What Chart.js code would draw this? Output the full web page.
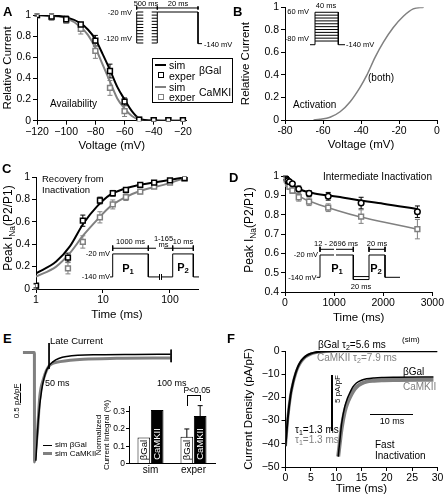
<!DOCTYPE html>
<html>
<head>
<meta charset="utf-8">
<script src="https://cdn.jsdelivr.net/npm/chart.js@4.4.1/dist/chart.umd.min.js"></script>
<style>
  html, body { margin: 0; padding: 0; background: #fff; }
  #fig { position: relative; width: 446px; height: 498px; overflow: hidden; font-family: "Liberation Sans", Arial, sans-serif; }
  #fig canvas { position: absolute; }
  .t { position: absolute; white-space: nowrap; line-height: 1; color: #000; }
  .t sub { font-size: 70%; vertical-align: -0.3em; line-height: 0; }
  .ln { position: absolute; background: #000; }
</style>
</head>
<body>
<div id="fig">
  <canvas id="cA"></canvas>
  <canvas id="cB"></canvas>
  <canvas id="cC"></canvas>
  <canvas id="cD"></canvas>
  <canvas id="cE"></canvas>
  <canvas id="cEbar"></canvas>
  <canvas id="cF"></canvas>
  <canvas id="pA"></canvas>
  <canvas id="pB"></canvas>
  <canvas id="pC"></canvas>
  <canvas id="pD"></canvas>
</div>
<script>
// ---------- data ----------
// A: availability (exper points + sim curves)
const voltA = [-120, -110, -100, -90, -80, -70, -60, -50, -40, -30, -20];
const availBgal = [1.0, 0.985, 0.96, 0.91, 0.757, 0.47, 0.18, 0.01, 0.005, 0.005, 0.005];
const availBgalErr = [0.01, 0.025, 0.03, 0.02, 0.05, 0.065, 0.035, 0.01, 0.01, 0.01, 0.01];
const availCam = [1.0, 0.98, 0.95, 0.87, 0.66, 0.31, 0.09, 0.01, 0.005, 0.005, 0.005];
const availCamErr = [0.01, 0.03, 0.03, 0.05, 0.07, 0.07, 0.05, 0.01, 0.01, 0.01, 0.01];
const simVoltA = [-120, -110, -100, -90, -85, -80, -75, -70, -65, -60, -55, -50, -45, -40, -30, -20];
const simAvailBgal = [1.0, 0.995, 0.98, 0.92, 0.86, 0.77, 0.63, 0.48, 0.32, 0.2, 0.09, 0.02, 0.005, 0.002, 0, 0];
const simAvailCam = [1.0, 0.99, 0.97, 0.885, 0.81, 0.69, 0.53, 0.37, 0.21, 0.115, 0.045, 0.012, 0.004, 0.001, 0, 0];

// B: activation (both)
const voltB = [-65, -61.6, -56.3, -51, -45.8, -40.5, -37, -32.6, -28.2, -23, -17.7, -12.5, -7];
const actB = [0, 0.006, 0.024, 0.073, 0.16, 0.29, 0.395, 0.555, 0.69, 0.82, 0.92, 0.985, 1.0];

// C: recovery from inactivation
const timeC = [1, 3, 5, 9, 14, 22, 36, 58, 100, 165];
const recBgal = [0.03, 0.28, 0.61, 0.79, 0.855, 0.885, 0.93, 0.95, 0.97, 0.99];
const recBgalErr = [0.02, 0.04, 0.05, 0.03, 0.025, 0.02, 0.015, 0.01, 0.01, 0.01];
const recCam = [0.02, 0.185, 0.42, 0.64, 0.755, 0.82, 0.87, 0.915, 0.95, 0.985];
const recCamErr = [0.02, 0.05, 0.055, 0.05, 0.04, 0.03, 0.02, 0.01, 0.01, 0.01];
const simTimeC = [1, 2, 3.2, 5.1, 8.1, 12.7, 20, 35.6, 80, 167];
const simRecBgal = [0.14, 0.245, 0.38, 0.585, 0.735, 0.84, 0.89, 0.93, 0.965, 0.997];
const simRecCam = [0.11, 0.2, 0.32, 0.48, 0.615, 0.735, 0.81, 0.875, 0.93, 0.99];

// D: intermediate inactivation
const timeD = [12, 20, 35, 55, 90, 150, 280, 490, 880, 1550, 2696];
const intBgal = [0.99, 0.985, 0.98, 0.975, 0.97, 0.96, 0.933, 0.91, 0.895, 0.86, 0.815];
const intBgalErr = [0.01, 0.01, 0.01, 0.01, 0.01, 0.01, 0.015, 0.015, 0.02, 0.03, 0.03];
const intCam = [0.985, 0.978, 0.97, 0.96, 0.945, 0.925, 0.89, 0.867, 0.836, 0.79, 0.725];
const intCamErr = [0.01, 0.01, 0.01, 0.01, 0.015, 0.015, 0.02, 0.02, 0.02, 0.035, 0.05];
const simTimeD = [0, 50, 150, 360, 600, 1080, 1500, 2000, 2700];
const simIntBgal = [1.0, 0.98, 0.955, 0.925, 0.91, 0.893, 0.875, 0.857, 0.828];
const simIntCam = [1.0, 0.965, 0.928, 0.885, 0.86, 0.82, 0.79, 0.762, 0.725];

// E: late current traces (ms, pA/pF relative to holding level)
const lateTimeBgal = [44.6, 45.6, 47, 49, 51.7, 57.2, 70.8, 85, 99.8];
const lateBgal = [-3.6, -2.24, -1.24, -0.58, -0.3, -0.13, -0.07, -0.06, -0.055];
const lateTimeCam = [39.3, 44.0, 44.05, 44.4, 45.3, 46.2, 47.6, 50.4, 54.5, 64, 77.7, 99.8];
const lateCam = [0, 0, -3.64, -3.3, -2.58, -1.47, -0.91, -0.41, -0.3, -0.22, -0.19, -0.18];
const lateMarks = [50, 100];

// E inset: normalized current integral
const barCats = ['sim', 'exper'];
const barBgal = [0.15, 0.155];
const barBgalErr = [0, 0.045];
const barCam = [0.31, 0.275];
const barCamErr = [0, 0.06];

// F: fast inactivation
const timeF = [0, 0.5, 1, 1.5, 2, 2.5, 3, 3.5, 4, 5, 6, 7, 8, 10, 30];
const fastBgal = [-41, -28, -19, -13.5, -9.5, -6.5, -4.5, -3.2, -2.2, -1.1, -0.5, -0.25, -0.1, 0, 0];
const fastCam = [-41, -28, -19.2, -13.8, -9.8, -6.9, -4.9, -3.5, -2.5, -1.3, -0.7, -0.4, -0.2, -0.05, 0];
const zoomTimeF = [10.4, 10.8, 11.1, 11.7, 12.2, 12.7, 13.3, 14, 15, 16, 17.5, 19, 22, 29.2];
const zoomBgal = [-45.5, -37, -31, -24, -20.5, -18, -15.5, -13.8, -12.6, -12, -11.6, -11.4, -11.3, -11.2];
const zoomCam = [-45.5, -38, -33, -26, -22.5, -20, -17.5, -15.5, -14, -13.2, -12.8, -12.6, -12.5, -12.4];

// voltage protocols (mV levels, schematic time)
const protoALevels = [-120, -110, -100, -90, -80, -70, -60, -50, -40, -30, -20];
const protoBLevels = [-80, -66, -52, -38, -24, -10, 4, 18, 32, 46, 60];

const GRAY = '#808080';
const fig = document.getElementById('fig');

Chart.defaults.font.family = '"Liberation Sans", Arial, Helvetica, sans-serif';
Chart.defaults.font.size = 10.5;
Chart.defaults.color = '#000';
Chart.defaults.animation = false;
Chart.defaults.events = [];
Chart.defaults.plugins.legend.display = false;
Chart.defaults.plugins.tooltip.enabled = false;

// ---------- helpers ----------
function frame(id, box, area) {
  const c = document.getElementById(id);
  c.style.left = box[0] + 'px';
  c.style.top = box[1] + 'px';
  c.width = box[2];
  c.height = box[3];
  if (!area) return { padding: 0 };
  return {
    padding: { left: 0, top: area.top - box[1], right: box[0] + box[2] - area.right, bottom: 0 },
    yw: area.left - box[0],
    xh: box[1] + box[3] - area.bottom
  };
}

const num = v => String(Math.round(v * 1000) / 1000);
const minus = v => (v < 0 ? '\u2212' + (-v) : String(v));

function axis(f, o, isX) {
  return {
    type: o.type || 'linear',
    min: o.min,
    max: o.max,
    afterFit: s => { if (isX) s.height = f.xh; else s.width = f.yw; },
    afterBuildTicks: s => { s.ticks = o.ticks.map(v => ({ value: v })); },
    border: { color: '#000', width: 1 },
    grid: { drawOnChartArea: false, drawTicks: true, tickLength: o.tl || 4, color: '#000' },
    ticks: { font: { size: o.fs || 10.5, lineHeight: 1 }, padding: o.pd == null ? 2 : o.pd, autoSkip: false, maxRotation: 0, callback: o.fmt || num },
    title: {
      display: !!o.title, text: o.title, font: { size: 11.5 },
      padding: isX ? { top: 0, bottom: o.tp || 0 } : { top: o.tp || 0, bottom: 0 }
    }
  };
}

function pts(xs, ys, err, color, style, r) {
  return {
    data: xs.map((x, i) => ({ x, y: ys[i] })), err,
    showLine: false, borderColor: color,
    pointStyle: style, pointRadius: r, pointBorderWidth: 1.5,
    pointBorderColor: color, pointBackgroundColor: '#fff'
  };
}

function curve(xs, ys, color, w) {
  return {
    data: xs.map((x, i) => ({ x, y: ys[i] })),
    borderColor: color, borderWidth: w, pointRadius: 0,
    cubicInterpolationMode: 'monotone', fill: false
  };
}

// polylines -> one dataset with gaps
function segs(lines) {
  const out = [];
  lines.forEach(l => {
    l.forEach(p => out.push({ x: p[0], y: p[1] }));
    out.push({ x: l[l.length - 1][0], y: null });
  });
  return out;
}

// error bars drawn through the chart's own y scale
const errorBars = {
  id: 'errorBars',
  beforeDatasetsDraw(chart) {
    const ctx = chart.ctx;
    chart.data.datasets.forEach((ds, i) => {
      if (!ds.err) return;
      const meta = chart.getDatasetMeta(i);
      const ys = chart.scales[meta.yAxisID];
      ctx.save();
      ctx.strokeStyle = ds.borderColor;
      ctx.lineWidth = 1;
      meta.data.forEach((el, j) => {
        const e = ds.err[j];
        if (!e) return;
        const d = ds.data[j];
        const v = typeof d === 'object' ? d.y : d;
        const top = ys.getPixelForValue(v + e);
        const bot = ys.getPixelForValue(v - e);
        ctx.beginPath();
        ctx.moveTo(el.x, top); ctx.lineTo(el.x, bot);
        ctx.moveTo(el.x - 2.5, top); ctx.lineTo(el.x + 2.5, top);
        ctx.moveTo(el.x - 2.5, bot); ctx.lineTo(el.x + 2.5, bot);
        ctx.stroke();
      });
      ctx.restore();
    });
  }
};

function txt(h, x, y, o = {}) {
  const d = document.createElement('div');
  d.className = 't';
  d.innerHTML = h;
  d.style.left = x + 'px';
  d.style.top = y + 'px';
  d.style.fontSize = (o.s || 10) + 'px';
  if (o.c) d.style.color = o.c;
  if (o.b) d.style.fontWeight = 'bold';
  const ax = o.a === 'c' ? '-50%' : o.a === 'r' ? '-100%' : '0';
  d.style.transform = o.rot ? 'translate(-50%,-50%) rotate(-90deg)' : `translate(${ax},-50%)`;
  fig.appendChild(d);
  return d;
}

function rule(x, y, w, h, c) {
  const d = document.createElement('div');
  d.className = 'ln';
  Object.assign(d.style, { left: x + 'px', top: y + 'px', width: w + 'px', height: h + 'px', background: c || '#000' });
  fig.appendChild(d);
  return d;
}

function boxEl(x, y, w, h, css) {
  const d = document.createElement('div');
  Object.assign(d.style, { position: 'absolute', left: x + 'px', top: y + 'px', width: w + 'px', height: h + 'px', boxSizing: 'border-box' }, css);
  fig.appendChild(d);
  return d;
}

function inset(id, box, xr, yr, lines) {
  frame(id, box, null);
  new Chart(id, {
    type: 'line',
    data: { datasets: [{ data: segs(lines), borderColor: '#000', borderWidth: 1, pointRadius: 0, tension: 0, clip: false, spanGaps: false }] },
    options: {
      responsive: false, layout: { padding: 0 },
      scales: { x: { type: 'linear', display: false, min: xr[0], max: xr[1] }, y: { display: false, min: yr[0], max: yr[1] } }
    }
  });
}

// ---------- A ----------
const fA = frame('cA', [0, 0, 222, 160], { left: 37, top: 15, right: 186.6, bottom: 120.7 });
new Chart('cA', {
  type: 'line',
  data: { datasets: [
    pts(voltA, availBgal, availBgalErr, '#000', 'rect', 3.4),
    pts(voltA, availCam, availCamErr, GRAY, 'rect', 3.4),
    curve(simVoltA, simAvailBgal, '#000', 2),
    curve(simVoltA, simAvailCam, GRAY, 2)
  ] },
  options: {
    responsive: false, layout: { padding: fA.padding },
    scales: {
      x: axis(fA, { min: -120, max: -17.5, ticks: [-120, -100, -80, -60, -40, -20], fmt: minus, title: 'Voltage (mV)', tp: 7 }, true),
      y: axis(fA, { min: 0, max: 1, ticks: [0, 0.2, 0.4, 0.6, 0.8, 1], title: 'Relative Current', tp: 1 }, false)
    }
  },
  plugins: [errorBars]
});

// ---------- B ----------
const fB = frame('cB', [222, 0, 224, 160], { left: 285, top: 6, right: 437, bottom: 120 });
new Chart('cB', {
  type: 'line',
  data: { datasets: [curve(voltB, actB, GRAY, 1.5)] },
  options: {
    responsive: false, layout: { padding: fB.padding },
    scales: {
      x: axis(fB, { min: -80, max: 0, ticks: [-80, -60, -40, -20, 0], title: 'Voltage (mV)', tp: 8 }, true),
      y: axis(fB, { min: 0, max: 1, ticks: [0, 0.2, 0.4, 0.6, 0.8, 1], title: 'Relative Current', tp: 17 }, false)
    }
  }
});

// ---------- C ----------
const fC = frame('cC', [0, 160, 222, 170], { left: 36, top: 177, right: 198, bottom: 289 });
new Chart('cC', {
  type: 'line',
  data: { datasets: [
    pts(timeC, recBgal, recBgalErr, '#000', 'rect', 3.4),
    pts(timeC, recCam, recCamErr, GRAY, 'rect', 3.4),
    curve(simTimeC, simRecBgal, '#000', 2),
    curve(simTimeC, simRecCam, GRAY, 2)
  ] },
  options: {
    responsive: false, layout: { padding: fC.padding },
    scales: {
      x: axis(fC, { type: 'logarithmic', min: 1, max: 262, ticks: [1, 10, 100], fmt: v => String(v), title: 'Time (ms)', tp: 8 }, true),
      y: axis(fC, { min: 0, max: 1, ticks: [0, 0.2, 0.4, 0.6, 0.8, 1] }, false)
    }
  },
  plugins: [errorBars]
});

// ---------- D ----------
const fD = frame('cD', [222, 160, 224, 170], { left: 285, top: 176, right: 438, bottom: 292 });
new Chart('cD', {
  type: 'line',
  data: { datasets: [
    pts(timeD, intBgal, intBgalErr, '#000', 'circle', 2.8),
    pts(timeD, intCam, intCamErr, GRAY, 'rect', 3.4),
    curve(simTimeD, simIntBgal, '#000', 2),
    curve(simTimeD, simIntCam, GRAY, 1.5)
  ] },
  options: {
    responsive: false, layout: { padding: fD.padding },
    scales: {
      x: axis(fD, { min: 0, max: 3000, ticks: [0, 1000, 2000, 3000], title: 'Time (ms)', tp: 5 }, true),
      y: axis(fD, { min: 0.4, max: 1, ticks: [0.4, 0.5, 0.6, 0.7, 0.8, 0.9, 1] }, false)
    }
  },
  plugins: [errorBars]
});

// ---------- E traces ----------
frame('cE', [20, 340, 155, 130], null);
new Chart('cE', {
  type: 'line',
  data: { datasets: [
    { data: segs([[[lateMarks[0], 0.32], [lateMarks[0], -0.54]], [[lateMarks[1], 0.1], [lateMarks[1], -0.32]]]),
      borderColor: '#000', borderWidth: 1, pointRadius: 0, tension: 0, spanGaps: false },
    curve(lateTimeBgal, lateBgal, '#000', 1.5),
    curve(lateTimeCam, lateCam, GRAY, 3)
  ] },
  options: {
    responsive: false, layout: { padding: 0 },
    scales: { x: { type: 'linear', display: false, min: 38.1, max: 101.6 }, y: { display: false, min: -3.91, max: 0.42 } }
  }
});

// ---------- E bars ----------
const fEb = frame('cEbar', [95, 395, 123, 85], { left: 129, top: 406.5, right: 215, bottom: 463.5 });
const barChart = new Chart('cEbar', {
  type: 'bar',
  data: { labels: barCats, datasets: [
    { data: barBgal, err: barBgalErr, backgroundColor: '#fff', borderColor: '#000', borderWidth: 1, categoryPercentage: 0.62, barPercentage: 0.95 },
    { data: barCam, err: barCamErr, backgroundColor: '#000', borderColor: '#000', borderWidth: 1, categoryPercentage: 0.62, barPercentage: 0.95 }
  ] },
  options: {
    responsive: false, layout: { padding: fEb.padding },
    scales: {
      x: { type: 'category', afterFit: s => { s.height = fEb.xh; },
           border: { color: '#000' }, grid: { display: false, drawTicks: false },
           ticks: { font: { size: 10, lineHeight: 1 }, padding: 2 } },
      y: Object.assign(axis(fEb, { min: 0, max: 0.33, ticks: [0, 0.1, 0.2, 0.3], fs: 8.5, tl: 3, pd: 1 }, false), {
           title: { display: true, text: ['Normalized', 'Current Integral (%)'], font: { size: 8, lineHeight: 1.0 }, padding: { top: 0, bottom: 0 } } })
    }
  },
  plugins: [errorBars]
});

// ---------- F ----------
const fF = frame('cF', [222, 330, 224, 168], { left: 285.5, top: 351, right: 437.5, bottom: 467 });
new Chart('cF', {
  type: 'line',
  data: { datasets: [
    curve(timeF, fastBgal, '#000', 2),
    curve(timeF, fastCam, GRAY, 3),
    curve(zoomTimeF, zoomBgal, '#000', 1.5),
    curve(zoomTimeF, zoomCam, GRAY, 4)
  ] },
  options: {
    responsive: false, layout: { padding: fF.padding },
    scales: {
      x: axis(fF, { min: 0, max: 30, ticks: [0, 5, 10, 15, 20, 25, 30], title: 'Time (ms)', tp: 2 }, true),
      y: axis(fF, { min: -50, max: 0, ticks: [-50, -40, -30, -20, -10, 0], fmt: minus, title: 'Current Density (pA/pF)', tp: 20 }, false)
    }
  }
});

// ---------- protocol insets ----------
inset('pA', [134, 2, 72, 46], [0, 72], [-136.1, 12.3], [
  ...protoALevels.map(L => [[2.7, L], [9.3, L]]),
  ...protoALevels.map(L => [[17.7, L], [23.3, L]]),
  [[2.7, -120], [2.7, -20]],
  [[23.3, -120], [23.3, -20], [64, -20], [64, -122], [68, -122]],
  [[2.7, -7], [64, -7]],
  [[2.7, -2], [2.7, -12]], [[23.3, -2], [23.3, -12]], [[64, -2], [64, -12]]
]);
inset('pB', [305, 2, 70, 46], [0, 70], [-114, 110], [
  ...protoBLevels.map(L => [[10, L], [33.3, L]]),
  [[5, -98], [10, -98], [10, 60]],
  [[33.3, 60], [33.3, -98], [40, -98]]
]);
inset('pC', [84, 234, 120, 52], [0, 120], [-187.3, 84], [
  [[26, -140], [28.7, -140], [28.7, -20], [64.3, -20], [64.3, -140], [75.5, -140]],
  [[77.5, -140], [88.7, -140], [88.7, -20], [109.3, -20], [109.3, -140], [115, -140]],
  [[75.5, -126], [75.5, -154]], [[77.5, -126], [77.5, -154]],
  [[28.7, 9.7], [64.3, 9.7], [72, 9.7]], [[80, 9.7], [109.3, 9.7]],
  [[28.7, 24], [28.7, -4]], [[64.3, 24], [64.3, -4]], [[88.7, 24], [88.7, -4]], [[109.3, 24], [109.3, -4]]
]);
inset('pD', [300, 238, 105, 50], [0, 105], [-197.5, 71.4], [
  [[16.7, -140], [20, -140], [20, -20], [34, -20]],
  [[36, -20], [53.3, -20], [53.3, -152], [69, -152], [69, -20], [85, -20], [85, -140], [100, -140]],
  [[53.3, -136], [69, -136]],
  [[20, 10.6], [34, 10.6]], [[36, 10.6], [53.3, 10.6]], [[69, 10.6], [85, 10.6]],
  [[20, 24], [20, -3]], [[53.3, 24], [53.3, -3]], [[69, 24], [69, -3]], [[85, 24], [85, -3]]
]);

// ---------- text and annotations ----------
// A
txt('A', 3, 11, { s: 13, b: 1 });
txt('Availability', 50, 104, { s: 10 });
boxEl(152, 58, 81, 45, { border: '1px solid #000' });
rule(155, 64, 11, 2);
txt('sim', 169, 65, { s: 10.5 });
boxEl(158, 72, 6, 6, { border: '1.5px solid #000', background: '#fff' });
txt('exper', 169, 75.5, { s: 10.5 });
txt('\u03b2Gal', 199, 70, { s: 10.5 });
rule(155, 85.5, 11, 2, GRAY);
txt('sim', 169, 86.5, { s: 10.5 });
boxEl(158, 94, 6, 6, { border: '1.5px solid ' + GRAY, background: '#fff' });
txt('exper', 169, 97, { s: 10.5 });
txt('CaMKII', 199, 91.5, { s: 10.5 });
txt('-20 mV', 132, 12.7, { a: 'r', s: 7.5 });
txt('-120 mV', 132, 39, { a: 'r', s: 7.5 });
txt('-140 mV', 204, 44.5, { s: 7.5 });
txt('500 ms', 146, 4, { a: 'c', s: 7.5 });
txt('20 ms', 178, 4, { a: 'c', s: 7.5 });

// B
txt('B', 233, 11, { s: 13, b: 1 });
txt('Activation', 293, 105, { s: 10 });
txt('(both)', 368, 78, { s: 10 });
txt('40 ms', 326, 6, { a: 'c', s: 7.5 });
txt('60 mV', 309, 12.3, { a: 'r', s: 7.5 });
txt('-80 mV', 309, 39, { a: 'r', s: 7.5 });
txt('-140 mV', 346, 44.7, { s: 7.5 });

// C
txt('C', 2, 168, { s: 13, b: 1 });
txt('Recovery from', 42, 179.3, { s: 9.5 });
txt('Inactivation', 42, 189.5, { s: 9.5 });
txt('Peak I<sub>Na</sub>(P2/P1)', 8, 228, { s: 12, rot: 1 });
txt('-20 mV', 110, 254.3, { a: 'r', s: 7.5 });
txt('-140 mV', 110, 277.3, { a: 'r', s: 7.5 });
txt('1000 ms', 130.5, 242, { a: 'c', s: 7.5 });
txt('1-165', 163.5, 238.5, { a: 'c', s: 7.5 });
txt('ms', 163.5, 245, { a: 'c', s: 7.5 });
txt('10 ms', 183, 242, { a: 'c', s: 7.5 });
txt('P<sub>1</sub>', 128, 268, { a: 'c', s: 11, b: 1 });
txt('P<sub>2</sub>', 183, 267, { a: 'c', s: 11, b: 1 });

// D
txt('D', 229, 177, { s: 13, b: 1 });
txt('Intermediate Inactivation', 323, 177.3, { s: 10 });
txt('Peak I<sub>Na</sub>(P2/P1)', 249, 230, { s: 12, rot: 1 });
txt('-20 mV', 318, 254.5, { a: 'r', s: 7.5 });
txt('-140 mV', 316.5, 277.5, { a: 'r', s: 7.5 });
txt('12 - 2696 ms', 336, 244.3, { a: 'c', s: 7.5 });
txt('20 ms', 377, 244.3, { a: 'c', s: 7.5 });
txt('20 ms', 361, 286.5, { a: 'c', s: 7.5 });
txt('P<sub>1</sub>', 337, 268, { a: 'c', s: 11, b: 1 });
txt('P<sub>2</sub>', 376, 268, { a: 'c', s: 11, b: 1 });

// E
txt('E', 3, 338, { s: 13, b: 1 });
txt('Late Current', 50, 340.5, { s: 9.5 });
txt('50 ms', 45, 383, { s: 9 });
txt('100 ms', 157, 383, { s: 9 });
txt('0.5 <u>pA/pF</u>', 16.5, 401, { s: 8, rot: 1 });
rule(43, 444.5, 9, 1.5);
txt('sim \u03b2Gal', 55, 445, { s: 8 });
rule(43, 452, 9, 3, GRAY);
txt('sim CaMKII', 55, 453.5, { s: 8 });
txt('P&lt;0.05', 197, 390, { a: 'c', s: 8.5 });

// labels inside the bars, placed from the bar elements
const cEb = document.getElementById('cEbar');
const bx = parseFloat(cEb.style.left), by = parseFloat(cEb.style.top);
const base = barChart.scales.y.getPixelForValue(0) + by - 4;
[0, 1].forEach(di => {
  barChart.getDatasetMeta(di).data.forEach(el => {
    const d = txt(di ? 'CaMKII' : '\u03b2Gal', 0, 0, { s: 9.5, rot: 1, c: di ? '#fff' : '#000' });
    d.style.left = (el.x + bx) + 'px';
    d.style.top = (base - d.offsetWidth / 2) + 'px';
  });
});
// significance bracket between the exper bars
const ex0 = barChart.getDatasetMeta(0).data[1].x + bx;
const ex1 = barChart.getDatasetMeta(1).data[1].x + bx;
rule(ex0, 395, ex1 - ex0 + 1, 1);
rule(ex0, 395, 1, 11);
rule(ex1, 395, 1, 6);

// F
txt('F', 227, 338, { s: 13, b: 1 });
txt('\u03b2Gal', 318, 345, { s: 10 });
txt('\u03c4<sub>2</sub>=5.6 ms', 342, 345, { s: 10 });
txt('(sim)', 402, 340, { s: 8 });
txt('CaMKII \u03c4<sub>2</sub>=7.9 ms', 317, 358, { s: 10, c: GRAY });
txt('\u03b2Gal', 403, 372, { s: 10 });
txt('CaMKII', 403, 387, { s: 10, c: GRAY });
txt('\u03c4<sub>1</sub>=1.3 ms', 295, 429.5, { s: 10 });
txt('\u03c4<sub>1</sub>=1.3 ms', 295, 439.5, { s: 10, c: GRAY });
txt('5 pA/pF', 338, 389, { s: 8, rot: 1 });
rule(331, 375, 1.5, 56);
rule(370, 413.5, 43, 1.5);
txt('10 ms', 392, 421, { a: 'c', s: 9 });
txt('Fast', 375, 445, { s: 10 });
txt('Inactivation', 375, 455.5, { s: 10 });
</script>
</body>
</html>
